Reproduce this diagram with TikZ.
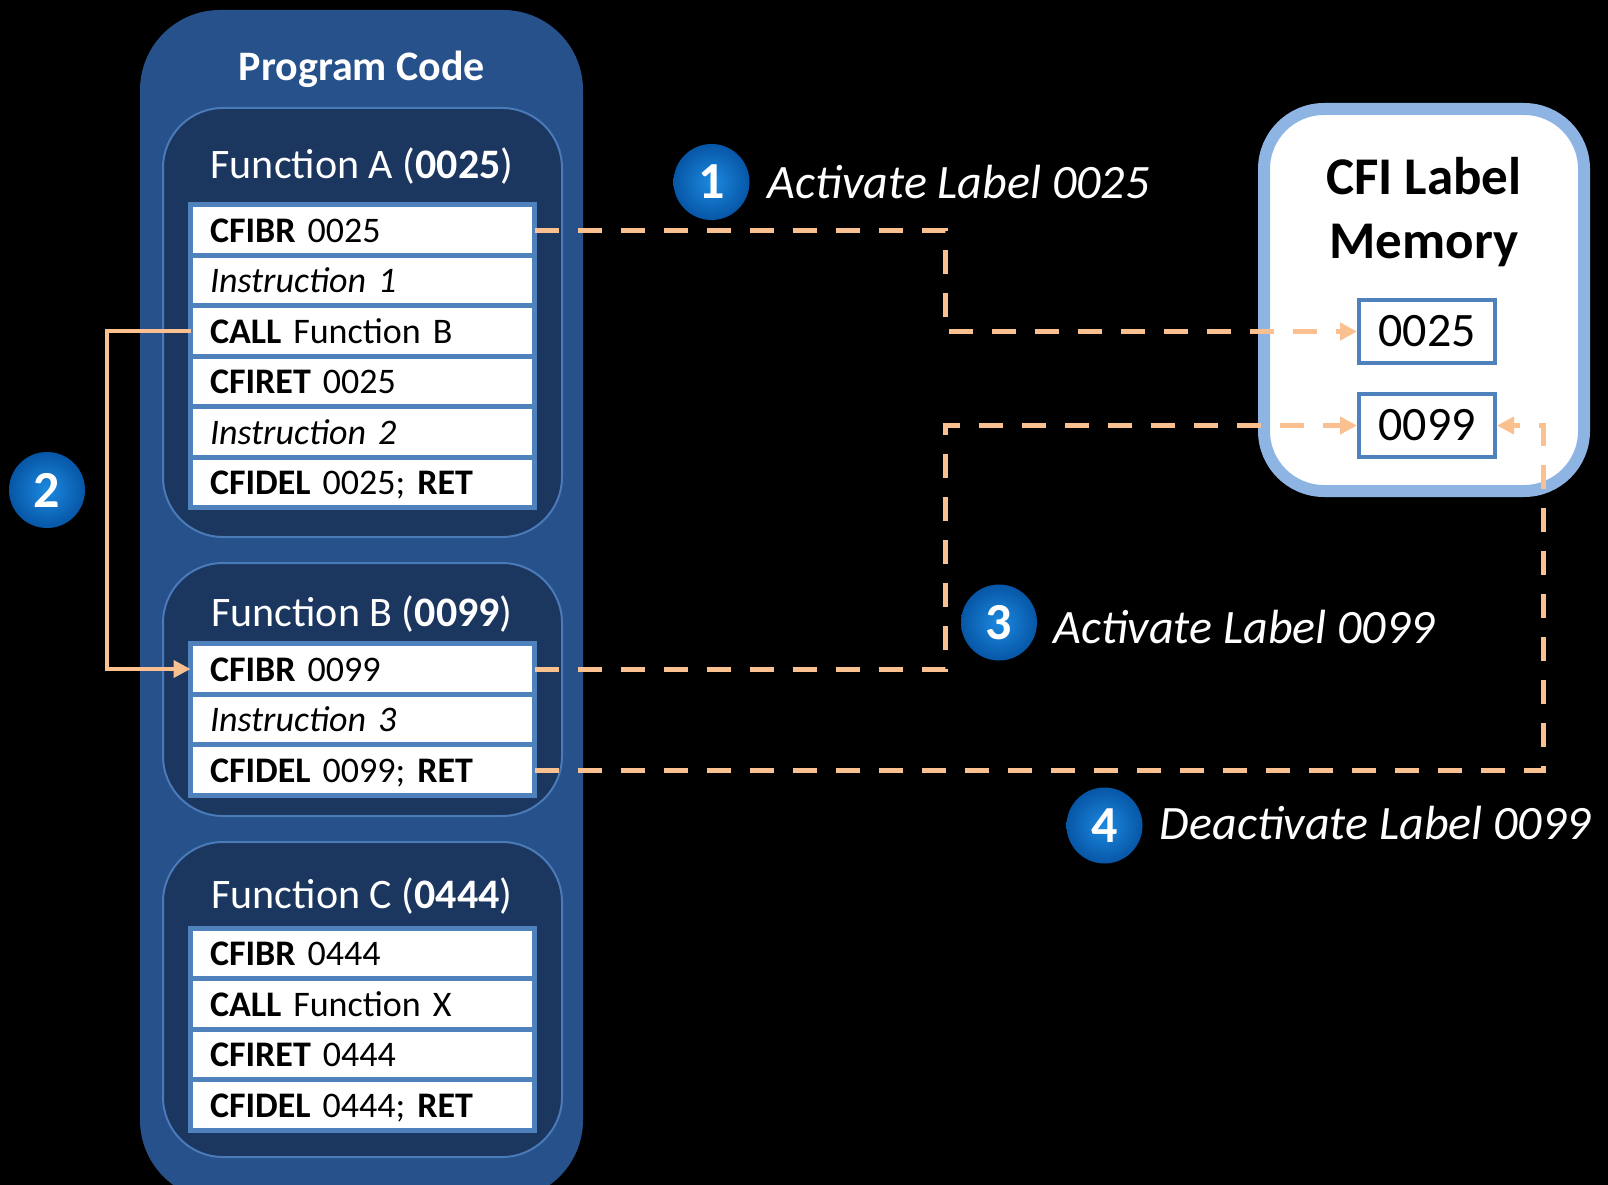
\documentclass[tikz,border=0pt]{standalone}
\usepackage{fontspec}
\setmainfont{Carlito}
\usetikzlibrary{positioning,arrows.meta}
\definecolor{codeouter}{HTML}{26518A}
\definecolor{funcfill}{HTML}{1B365F}
\definecolor{funcline}{HTML}{4A7AB8}
\definecolor{rowline}{HTML}{4F81BD}
\definecolor{memline}{HTML}{8DB4E2}
\definecolor{flow}{HTML}{FAC090}
\definecolor{badgein}{HTML}{1C8AE0}
\definecolor{badgeout}{HTML}{0756A6}

\begin{document}
\begin{tikzpicture}[x=1pt, y=-1pt, >={Triangle[length=17pt,width=17pt]},
    every node/.style={inner sep=0pt},
    codebox/.style={fill=codeouter, rounded corners=80pt, minimum width=443pt, minimum height=1190pt},
    codetitle/.style={white, font=\bfseries\fontsize{42}{50}\selectfont},
    funcbox/.style={draw=funcline, line width=2pt, fill=funcfill, rounded corners=60pt, minimum width=399pt},
    functitle/.style={white, font=\fontsize{42}{50}\selectfont},
    instrow/.style={draw=rowline, line width=5pt, fill=white, outer sep=0pt,
                    text width=305pt, inner xsep=19.5pt, minimum height=50.5pt, align=left,
                    text height=30pt, text depth=6pt, font=\fontsize{36}{43}\selectfont},
    membox/.style={draw=memline, line width=12pt, fill=white, rounded corners=60pt,
                   minimum width=320pt, minimum height=382pt},
    memtitle/.style={align=center, font=\bfseries\fontsize{53}{64}\selectfont},
    slotbox/.style={draw=rowline, line width=4pt, fill=white, minimum width=136pt,
                    minimum height=63pt, font=\fontsize{48}{56}\selectfont},
    badge/.style={circle, minimum size=76pt, inner color=badgein, outer color=badgeout,
                  text=white, font=\bfseries\fontsize{52}{60}\selectfont},
    steplabel/.style={white, font=\itshape\fontsize{48}{56}\selectfont},
    dashflow/.style={draw=flow, line width=5pt, dash pattern=on 24pt off 19pt, ->},
    callflow/.style={draw=flow, line width=4pt, ->}]

  %% 畫布與黑色背景
  \useasboundingbox (0,0) rectangle (1608,1185);
  \fill[black] (0,0) rectangle (1608,1185);

  %% 程式碼區塊
  \node[codebox] (code) at (361.5,605) {};
  \node[codetitle] (codetitle) at (362,69) {Program Code};

  %% 三個函式框
  \node[funcbox, minimum height=429pt] (funcA) at (362.5,322.5) {};
  \node[funcbox, minimum height=253pt] (funcB) at (362.5,689.5) {};
  \node[funcbox, minimum height=315pt] (funcC) at (362.5,999.5) {};
  \node[functitle] (titleA) at (362,166) {Function A (\textbf{0025})};
  \node[functitle] (titleB) at (362,614) {Function B (\textbf{0099})};
  \node[functitle] (titleC) at (362,896) {Function C (\textbf{0444})};

  %% 函式 A 的指令
  \node[instrow] (a1) at (362.5,230) {\textbf{CFIBR} 0025};
  \node[instrow, below=0pt of a1] (a2) {\textit{Instruction 1}};
  \node[instrow, below=0pt of a2] (a3) {\textbf{CALL} Function B};
  \node[instrow, below=0pt of a3] (a4) {\textbf{CFIRET} 0025};
  \node[instrow, below=0pt of a4] (a5) {\textit{Instruction 2}};
  \node[instrow, below=0pt of a5] (a6) {\textbf{CFIDEL} 0025; \textbf{RET}};

  %% 函式 B 的指令
  \node[instrow] (b1) at (362.5,669) {\textbf{CFIBR} 0099};
  \node[instrow, below=0pt of b1] (b2) {\textit{Instruction 3}};
  \node[instrow, below=0pt of b2] (b3) {\textbf{CFIDEL} 0099; \textbf{RET}};

  %% 函式 C 的指令
  \node[instrow] (c1) at (362.5,953.5) {\textbf{CFIBR} 0444};
  \node[instrow, below=0pt of c1] (c2) {\textbf{CALL} Function X};
  \node[instrow, below=0pt of c2] (c3) {\textbf{CFIRET} 0444};
  \node[instrow, below=0pt of c3] (c4) {\textbf{CFIDEL} 0444; \textbf{RET}};

  %% 標籤記憶體
  \node[membox] (mem) at (1424,300) {};
  \node[memtitle] (memtitle) at (1424,212) {CFI Label\\Memory};
  \node[slotbox] (slot0025) at (1427,331.5) {0025};
  \node[slotbox] (slot0099) at (1427,425.5) {0099};

  %% 控制流程箭頭
  \draw[dashflow] (a1.east) -| ([xshift=-412pt]slot0025.west) -- (slot0025.west);
  \draw[callflow] (a3.west) -| ([xshift=-83.5pt]b1.west) -- (b1.west);
  \draw[dashflow] (b1.east) -| ([xshift=-412pt]slot0099.west) -- (slot0099.west);
  \draw[dashflow] (b3.east) -| ([xshift=46pt]slot0099.east) -- (slot0099.east);

  %% 步驟編號與說明
  \node[badge] (badge1) at (711.5,182) {1};
  \node[badge] (badge2) at (47,490) {2};
  \node[badge] (badge3) at (999,622.5) {3};
  \node[badge] (badge4) at (1104.5,825.5) {4};
  \node[steplabel, right=18pt of badge1] (label1) {Activate Label 0025};
  \node[steplabel, right=16pt of badge3, yshift=-5pt] (label3) {Activate Label 0099};
  \node[steplabel, right=17pt of badge4, yshift=2pt] (label4) {Deactivate Label 0099};

\end{tikzpicture}
\end{document}
